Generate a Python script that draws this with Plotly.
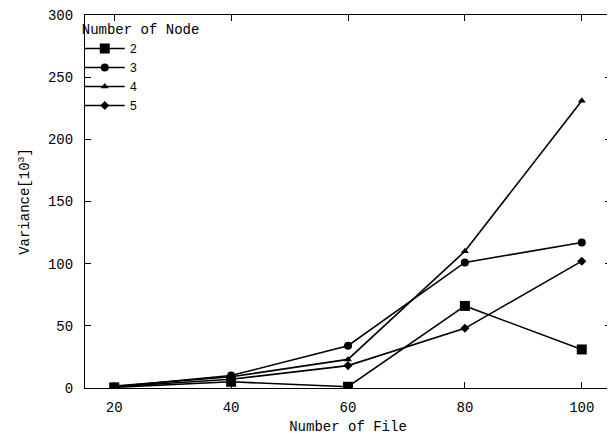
import plotly.graph_objects as go

files = [20, 40, 60, 80, 100]
node_names = ["2", "3", "4", "5"]
var_node2 = [0.5, 5, 1, 66, 31]
var_node3 = [1, 10, 34, 101, 117]
var_node4 = [1.5, 9, 23, 110, 231]
var_node5 = [1, 7, 18, 48, 102]
series = [var_node2, var_node3, var_node4, var_node5]
symbols = ["square", "circle", "triangle-up", "diamond"]
sizes = [10, 8, 7, 7]

x_ticks = [20, 40, 60, 80, 100]
y_ticks = [0, 50, 100, 150, 200, 250, 300]

FONT = "Liberation Mono, DejaVu Sans Mono, monospace"

fig = go.Figure()
for name, ys, sym, sz in zip(node_names, series, symbols, sizes):
    fig.add_trace(go.Scatter(
        x=files, y=ys, name=name, mode="lines+markers",
        line=dict(color="black", width=1.6),
        marker=dict(symbol=sym, size=sz, color="black"),
    ))

axis_common = dict(
    showgrid=False, zeroline=False, showline=True, linecolor="black",
    linewidth=1.2, mirror="ticks", ticks="inside", ticklen=6,
    tickcolor="black", tickwidth=1, ticklabeloverflow="allow",
    tickfont=dict(family=FONT, size=14, color="black"),
)

# page body has an 8px margin, so the figure is sized to fit the window
fig.update_layout(
    width=607, height=429,
    margin=dict(l=77, r=4, t=7, b=49, autoexpand=False),
    paper_bgcolor="white", plot_bgcolor="white",
    font=dict(family=FONT, size=14, color="black"),
    xaxis=dict(range=[15, 105], tickvals=x_ticks, ticklabelstandoff=6,
               title=dict(text="Number of File", standoff=6,
                          font=dict(family=FONT, size=14)),
               automargin=False,
               **axis_common),
    yaxis=dict(range=[0, 300], tickvals=y_ticks, ticklabelstandoff=8,
               title=dict(text="Variance[10<sup>3</sup>]", standoff=14,
                          font=dict(family=FONT, size=14)),
               automargin=False,
               **axis_common),
    legend=dict(
        x=-0.01, y=0.998, xanchor="left", yanchor="top",
        bgcolor="rgba(0,0,0,0)", borderwidth=0,
        title=dict(text="Number of Node", font=dict(family=FONT, size=14)),
        font=dict(family=FONT, size=12), tracegroupgap=0,
        itemwidth=40,
    ),
)

fig.write_html("out.html")
